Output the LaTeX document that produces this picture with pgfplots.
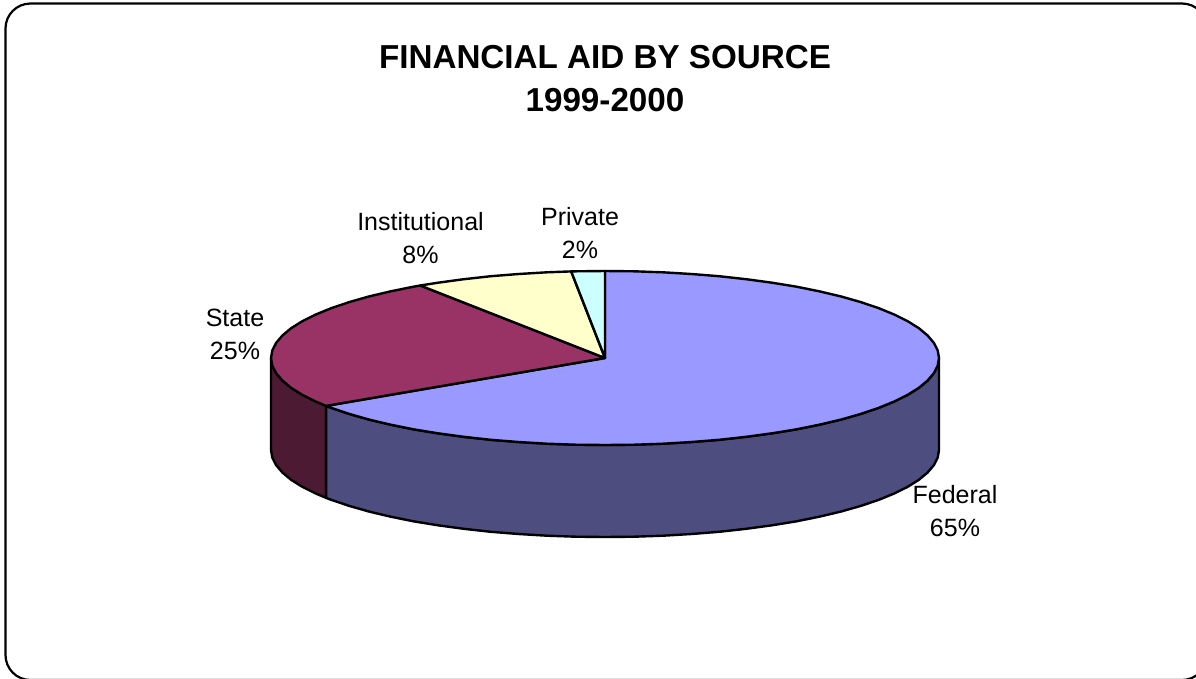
\documentclass[border=0pt]{standalone}
\usepackage{pgfplots}
\pgfplotsset{compat=1.18}
\usepackage{fontspec}
\setmainfont{Liberation Sans}

% colours of the slices, top face and side wall
\definecolor{federal}{HTML}{9999FF}
\definecolor{federalside}{HTML}{4D4D80}
\definecolor{state}{HTML}{993366}
\definecolor{stateside}{HTML}{4D1A33}
\definecolor{institutional}{HTML}{FFFFCC}
\definecolor{private}{HTML}{CCFFFF}

\begin{document}
\begin{tikzpicture}
\clip (0,0) rectangle (1196pt,678pt);
\begin{axis}[
		scale only axis,
		width=1196pt,
		height=678pt,
		xmin=0, xmax=1196,
		ymin=0, ymax=678,
		y dir=reverse,
		hide axis,
		clip=false,
		line join=round,
		title={FINANCIAL AID BY SOURCE\\1999-2000},
		title style={
			at={(axis cs:605,51)},
			anchor=north,
			align=center,
			font=\fontsize{33.2}{43}\selectfont\bfseries,
			inner sep=0pt,
		},
		slice/.style={draw=black, line width=2.4pt},
	]

	% frame, runs off the page on the right and at the bottom
	\draw[black, line width=2.2pt, rounded corners=25pt] (axis cs:5.5,3.5) rectangle (axis cs:1207,680);

	% side walls
	\addplot[slice, fill=stateside] coordinates {
		(326.1,405.9) (315.8,401.5) (302.3,394.8) (291.1,387.8) (282.4,380.5) (276.1,373.1) (272.3,365.6) (271,358)
		(271,450) (272.3,457.6) (276.1,465.1) (282.4,472.5) (291.1,479.8) (302.3,486.8) (315.8,493.5) (326.1,497.9)
	} -- cycle;
	\addplot[slice, fill=federalside] coordinates {
		(939,358) (937.7,365.6) (933.9,373.1) (927.6,380.5) (918.9,387.8) (907.7,394.8) (894.2,401.5) (878.6,407.9)
		(860.8,413.9) (841.2,419.5) (819.7,424.6) (796.6,429.3) (772,433.3) (746.2,436.8) (719.2,439.8) (691.4,442)
		(663,443.7) (634.1,444.7) (605,445) (575.9,444.7) (547,443.7) (518.6,442) (490.8,439.8) (463.8,436.8)
		(438,433.3) (413.4,429.3) (390.3,424.6) (368.8,419.5) (349.2,413.9) (331.4,407.9) (326.1,405.9)
		(326.1,497.9) (331.4,499.9) (349.2,505.9) (368.8,511.5) (390.3,516.6) (413.4,521.3) (438,525.3)
		(463.8,528.8) (490.8,531.8) (518.6,534) (547,535.7) (575.9,536.7) (605,537) (634.1,536.7) (663,535.7)
		(691.4,534) (719.2,531.8) (746.2,528.8) (772,525.3) (796.6,521.3) (819.7,516.6) (841.2,511.5) (860.8,505.9)
		(878.6,499.9) (894.2,493.5) (907.7,486.8) (918.9,479.8) (927.6,472.5) (933.9,465.1) (937.7,457.6) (939,450)
	} -- cycle;

	% top face
	\addplot[slice, fill=federal] coordinates {
		(605,358) (605,271) (634.1,271.3) (663,272.3) (691.4,274) (719.2,276.2) (746.2,279.2) (772,282.7) (796.6,286.7)
		(819.7,291.4) (841.2,296.5) (860.8,302.1) (878.6,308.1) (894.2,314.5) (907.7,321.2) (918.9,328.2) (927.6,335.5)
		(933.9,342.9) (937.7,350.4) (939,358) (937.7,365.6) (933.9,373.1) (927.6,380.5) (918.9,387.8) (907.7,394.8)
		(894.2,401.5) (878.6,407.9) (860.8,413.9) (841.2,419.5) (819.7,424.6) (796.6,429.3) (772,433.3) (746.2,436.8)
		(719.2,439.8) (691.4,442) (663,443.7) (634.1,444.7) (605,445) (575.9,444.7) (547,443.7) (518.6,442) (490.8,439.8)
		(463.8,436.8) (438,433.3) (413.4,429.3) (390.3,424.6) (368.8,419.5) (349.2,413.9) (331.4,407.9) (326.1,405.9)
	} -- cycle;
	\addplot[slice, fill=state] coordinates {
		(605,358) (326.1,405.9) (315.8,401.5) (302.3,394.8) (291.1,387.8) (282.4,380.5) (276.1,373.1) (272.3,365.6)
		(271,358) (272.3,350.4) (276.1,342.9) (282.4,335.5) (291.1,328.2) (302.3,321.2) (315.8,314.5) (331.4,308.1)
		(349.2,302.1) (368.8,296.5) (390.3,291.4) (413.4,286.7) (420.2,285.5)
	} -- cycle;
	\addplot[slice, fill=institutional] coordinates {
		(605,358) (420.2,285.5) (438,282.7) (463.8,279.2) (490.8,276.2) (518.6,274) (547,272.3) (571.2,271.4)
	} -- cycle;
	\addplot[slice, fill=private] coordinates {
		(605,358) (571.2,271.4) (575.9,271.3) (605,271)
	} -- cycle;

	% slice labels
	\begin{scope}[every node/.style={align=center, font=\fontsize{25}{32.5}\selectfont, inner sep=0pt}]
		\node at (axis cs:420.5,238) {Institutional\\8\%};
		\node at (axis cs:580,233) {Private\\2\%};
		\node at (axis cs:235,334.5) {State\\25\%};
		\node at (axis cs:955,511) {Federal\\65\%};
	\end{scope}
\end{axis}
\end{tikzpicture}
\end{document}
